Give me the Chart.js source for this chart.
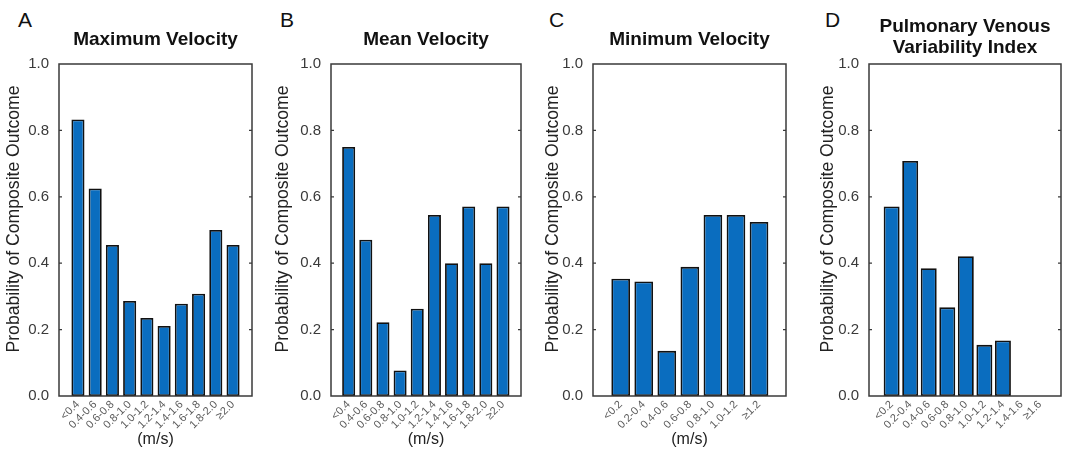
<!DOCTYPE html>
<html>
<head>
<meta charset="utf-8">
<script src="https://cdn.jsdelivr.net/npm/chart.js@4.4.1/dist/chart.umd.min.js"></script>
<style>
  body { margin: 0; width: 1068px; height: 460px; background: #fff; position: relative; overflow: hidden;
         font-family: "Liberation Sans", Arial, sans-serif; }
  .painel { position: absolute; top: 0; height: 460px; }
  .letra { position: absolute; top: 9px; font-size: 21px; color: #111; line-height: 1; }
</style>
</head>
<body>
<div class="letra" style="left:18px">A</div>
<div class="letra" style="left:280px">B</div>
<div class="letra" style="left:549px">C</div>
<div class="letra" style="left:825px">D</div>

<div class="painel" style="left:0px;width:268px"><canvas id="graficoA"></canvas></div>
<div class="painel" style="left:268px;width:268px"><canvas id="graficoB"></canvas></div>
<div class="painel" style="left:536px;width:266px"><canvas id="graficoC"></canvas></div>
<div class="painel" style="left:802px;width:266px"><canvas id="graficoD"></canvas></div>

<script>
// ============================
//       DADOS
// ============================
const rotulosMax = ["<0.4", "0.4-0.6", "0.6-0.8", "0.8-1.0", "1.0-1.2", "1.2-1.4", "1.4-1.6", "1.6-1.8", "1.8-2.0", "≥2.0"];
const valoresMax = [0.833, 0.625, 0.455, 0.286, 0.235, 0.211, 0.278, 0.308, 0.5, 0.455];

const rotulosMedia = ["<0.4", "0.4-0.6", "0.6-0.8", "0.8-1.0", "1.0-1.2", "1.2-1.4", "1.4-1.6", "1.6-1.8", "1.8-2.0", "≥2.0"];
const valoresMedia = [0.75, 0.471, 0.222, 0.077, 0.263, 0.545, 0.4, 0.571, 0.4, 0.571];

const rotulosMin = ["<0.2", "0.2-0.4", "0.4-0.6", "0.6-0.8", "0.8-1.0", "1.0-1.2", "≥1.2"];
const valoresMin = [0.353, 0.345, 0.136, 0.389, 0.545, 0.545, 0.524];

const rotulosPvvi = ["<0.2", "0.2-0.4", "0.4-0.6", "0.6-0.8", "0.8-1.0", "1.0-1.2", "1.2-1.4", "1.4-1.6", "≥1.6"];
const valoresPvvi = [0.571, 0.708, 0.385, 0.267, 0.421, 0.154, 0.167, 0, 0];

const ticksY = [0, 0.2, 0.4, 0.6, 0.8, 1.0];
const tituloEixoY = "Probability of Composite Outcome";

// layout de cada painel (posições, não dados)
const paineis = [
  { canvas: "graficoA", titulo: "Maximum Velocity", rotulos: rotulosMax, valores: valoresMax, unidade: "(m/s)",
    eixoY: 59, dir: 16, tituloX: 14, xmin: -1.1, xmax: 10.1, barra: 0.76 },
  { canvas: "graficoB", titulo: "Mean Velocity", rotulos: rotulosMedia, valores: valoresMedia, unidade: "(m/s)",
    eixoY: 63, dir: 15, tituloX: 15, xmin: -1.03, xmax: 10.05, barra: 0.76 },
  { canvas: "graficoC", titulo: "Minimum Velocity", rotulos: rotulosMin, valores: valoresMin, unidade: "(m/s)",
    eixoY: 57, dir: 16, tituloX: 17, xmin: -1.2, xmax: 7.17, barra: 0.81 },
  { canvas: "graficoD", titulo: ["Pulmonary Venous", "Variability Index"], rotulos: rotulosPvvi, valores: valoresPvvi, unidade: "",
    eixoY: 67, dir: 7, tituloX: 26, xmin: -1.22, xmax: 9.13, barra: 0.86 },
];

// caixa em volta da área, tracinhos internos e título do eixo Y
const caixaPlugin = {
  id: "caixa",
  afterDraw(chart, args, opts) {
    const { ctx, chartArea: a, scales } = chart;
    ctx.save();
    ctx.strokeStyle = "#3a3a3a";
    ctx.lineWidth = 1.5;
    ctx.strokeRect(a.left, a.top, a.right - a.left, a.bottom - a.top);
    ctx.lineWidth = 1.2;
    ticksY.slice(1, -1).forEach((v) => {
      const y = scales.y.getPixelForValue(v);
      ctx.beginPath();
      ctx.moveTo(a.left, y); ctx.lineTo(a.left + 3, y);
      ctx.moveTo(a.right, y); ctx.lineTo(a.right - 3, y);
      ctx.stroke();
    });
    ctx.translate(opts.x, 219);
    ctx.rotate(-Math.PI / 2);
    ctx.fillStyle = "#222";
    ctx.font = '17.6px "Liberation Sans", Arial, sans-serif';
    ctx.textAlign = "center";
    ctx.textBaseline = "middle";
    ctx.fillText(tituloEixoY, 0, 0);
    ctx.restore();
  },
};

function criarGrafico(p) {
  const ctx = document.getElementById(p.canvas).getContext("2d");
  const duasLinhas = Array.isArray(p.titulo);
  return new Chart(ctx, {
    type: "bar",
    data: {
      datasets: [
        {
          data: p.valores.map((v, i) => ({ x: i, y: v })),
          backgroundColor: "#0a6dbf",
          borderColor: "#111",
          borderWidth: 1.8,
          borderSkipped: false,
          barPercentage: p.barra,
          categoryPercentage: 1,
        },
      ],
    },
    options: {
      responsive: true,
      maintainAspectRatio: false,
      animation: false,
      layout: { padding: { left: 0, right: p.dir, top: 0, bottom: 0 } },
      plugins: {
        legend: { display: false },
        tooltip: { enabled: false },
        title: {
          display: true,
          fullSize: false,
          text: p.titulo,
          color: "#111",
          font: { family: '"Liberation Sans", Arial, sans-serif', size: 19, weight: "bold", lineHeight: duasLinhas ? 1.1 : 1.2 },
          padding: duasLinhas ? { top: 16.5, bottom: 5.7 } : { top: 28.5, bottom: 12.7 },
        },
        caixa: { x: p.tituloX },
      },
      scales: {
        x: {
          type: "linear",
          offset: false,
          min: p.xmin,
          max: p.xmax,
          afterBuildTicks: (s) => { s.ticks = p.rotulos.map((_, i) => ({ value: i })); },
          afterFit: (s) => { s.height = 64; },
          grid: { display: false, drawTicks: false, offset: false },
          border: { display: false },
          ticks: {
            autoSkip: false,
            maxRotation: 45,
            minRotation: 45,
            padding: 2,
            color: "#5a5a5a",
            font: { family: '"Liberation Sans", Arial, sans-serif', size: 11 },
            callback: (v) => p.rotulos[v],
          },
          title: {
            display: p.unidade !== "",
            text: p.unidade,
            color: "#222",
            font: { family: '"Liberation Sans", Arial, sans-serif', size: 16 },
            padding: { top: 0, bottom: 11 },
          },
        },
        y: {
          min: 0,
          max: 1,
          afterBuildTicks: (s) => { s.ticks = ticksY.map((v) => ({ value: v })); },
          afterFit: (s) => { s.width = p.eixoY; },
          grid: { display: false, drawTicks: false },
          border: { display: false },
          ticks: {
            padding: 10,
            color: "#3a3a3a",
            font: { family: '"Liberation Sans", Arial, sans-serif', size: 15 },
            callback: (v) => v.toFixed(1),
          },
        },
      },
    },
    plugins: [caixaPlugin],
  });
}

paineis.forEach(criarGrafico);
</script>
</body>
</html>
